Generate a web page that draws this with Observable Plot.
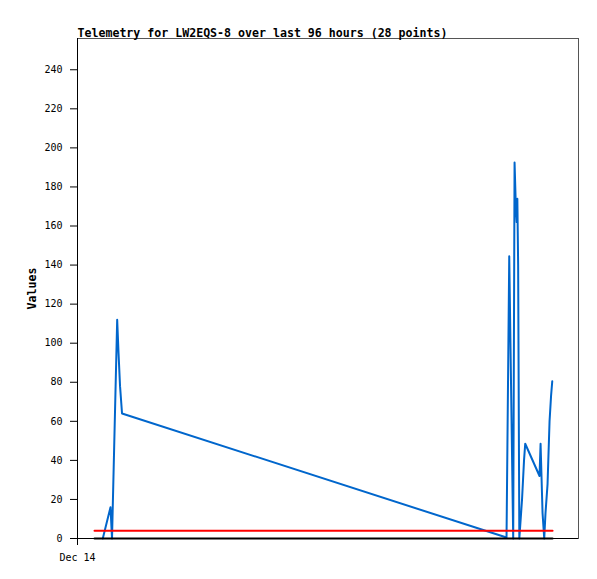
<!DOCTYPE html>
<html>
<head>
<meta charset="utf-8">
<script src="https://cdn.jsdelivr.net/npm/d3@7"></script>
<script src="https://cdn.jsdelivr.net/npm/@observablehq/plot@0.6"></script>
<style>
  html, body { margin: 0; padding: 0; background: white; }
</style>
</head>
<body>
<div id="chart"></div>
<script>
// Title and labels
const titleText = "Telemetry for LW2EQS-8 over last 96 hours (28 points)";
const yLabel = "Values";

// Telemetry samples (UTC)
const times = [
  "2024-12-14T05:18Z", "2024-12-14T06:55Z", "2024-12-14T07:14Z", "2024-12-14T08:19Z",
  "2024-12-14T08:36Z", "2024-12-14T08:55Z", "2024-12-14T09:20Z", "2024-12-17T17:55Z",
  "2024-12-17T18:29Z", "2024-12-17T19:19Z", "2024-12-17T19:36Z", "2024-12-17T19:52Z",
  "2024-12-17T20:03Z", "2024-12-17T20:11Z", "2024-12-17T20:21Z", "2024-12-17T20:36Z",
  "2024-12-17T21:10Z", "2024-12-17T21:35Z", "2024-12-17T21:50Z", "2024-12-18T00:50Z",
  "2024-12-18T01:03Z", "2024-12-18T01:28Z", "2024-12-18T01:49Z", "2024-12-18T02:05Z",
  "2024-12-18T02:31Z", "2024-12-18T02:56Z", "2024-12-18T03:15Z", "2024-12-18T03:30Z"
];
const values = [
  0, 16, 0, 112,
  95, 78, 64, 0.5,
  144.5, 0, 192.5, 170,
  162, 174, 140, 0,
  20, 40, 48.5, 32,
  48.5, 13, 0, 13,
  28, 60, 73, 80.5
];

// Reference lines spanning the 96-hour window
const windowTimes = ["2024-12-14T03:34Z", "2024-12-18T03:34Z"];
const thresholdValue = 4;
const baselineValue = 0;

// Axis ticks
const yTicks = [0, 20, 40, 60, 80, 100, 120, 140, 160, 180, 200, 220, 240];
const xTicks = ["2024-12-14T00:00Z"];
const xDomain = ["2024-12-14T00:00Z", "2024-12-18T09:00Z"];
const yDomain = [0, 256];

const data = times.map((t, i) => ({t: new Date(t), v: values[i]}));
const baseline = windowTimes.map(t => ({t: new Date(t), v: baselineValue}));
const threshold = windowTimes.map(t => ({t: new Date(t), v: thresholdValue}));

const fmt = d3.utcFormat("%b %d");

const chart = Plot.plot({
  width: 597,
  height: 579,
  marginLeft: 77,
  marginRight: 19,
  marginTop: 38,
  marginBottom: 41,
  style: {fontFamily: "'DejaVu Sans Mono', monospace", fontSize: "10px", color: "black", background: "white"},
  x: {type: "utc", domain: xDomain.map(d => new Date(d))},
  y: {domain: yDomain},
  marks: [
    Plot.frame({stroke: "#555"}),
    Plot.ruleX([new Date(xDomain[0])], {stroke: "black"}),
    Plot.ruleY([0], {stroke: "black"}),
    Plot.axisY({ticks: yTicks, tickSize: 7, tickPadding: 8, label: null, fontSize: 10}),
    Plot.axisX({ticks: xTicks.map(d => new Date(d)), tickFormat: fmt, tickSize: 7, tickPadding: 8, label: null, fontSize: 10}),
    Plot.line(data, {x: "t", y: "v", stroke: "#0066cc", strokeWidth: 2, curve: "linear"}),
    Plot.line(baseline, {x: "t", y: "v", stroke: "black", strokeWidth: 2}),
    Plot.line(threshold, {x: "t", y: "v", stroke: "red", strokeWidth: 2}),
    Plot.text([titleText], {frameAnchor: "top-left", dy: -10, textAnchor: "start", fontWeight: "bold", fontSize: 11.6, fill: "black"}),
    Plot.text([yLabel], {frameAnchor: "left", dx: -45, rotate: -90, textAnchor: "middle", fontWeight: "bold", fontSize: 11.6, fill: "black"})
  ]
});

document.getElementById("chart").appendChild(chart);
</script>
</body>
</html>
